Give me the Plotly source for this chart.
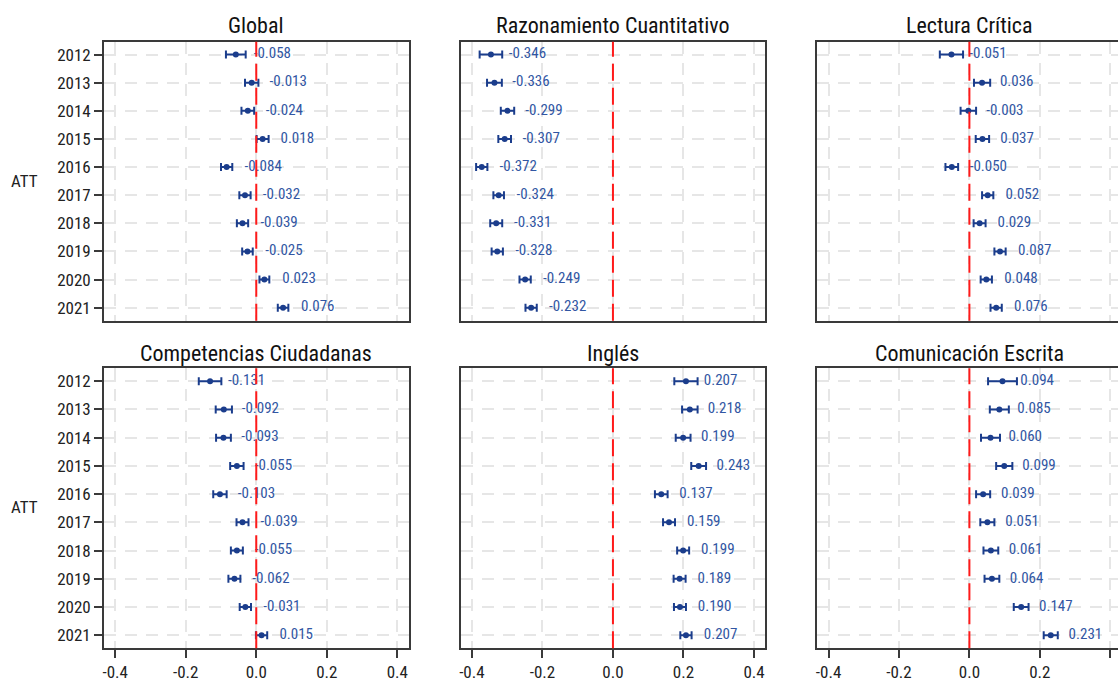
import plotly.graph_objects as go

years = ["2012", "2013", "2014", "2015", "2016", "2017", "2018", "2019", "2020", "2021"]

panel_titles = ["Global", "Razonamiento Cuantitativo", "Lectura Crítica",
                "Competencias Ciudadanas", "Inglés", "Comunicación Escrita"]

global_att = [-0.058, -0.013, -0.024, 0.018, -0.084, -0.032, -0.039, -0.025, 0.023, 0.076]
global_ci = [0.028, 0.019, 0.018, 0.017, 0.016, 0.016, 0.016, 0.015, 0.014, 0.015]

razon_att = [-0.346, -0.336, -0.299, -0.307, -0.372, -0.324, -0.331, -0.328, -0.249, -0.232]
razon_ci = [0.032, 0.021, 0.019, 0.018, 0.016, 0.015, 0.017, 0.016, 0.016, 0.016]

lectura_att = [-0.051, 0.036, -0.003, 0.037, -0.050, 0.052, 0.029, 0.087, 0.048, 0.076]
lectura_ci = [0.033, 0.023, 0.022, 0.019, 0.018, 0.016, 0.017, 0.016, 0.016, 0.016]

cc_att = [-0.131, -0.092, -0.093, -0.055, -0.103, -0.039, -0.055, -0.062, -0.031, 0.015]
cc_ci = [0.032, 0.023, 0.021, 0.019, 0.019, 0.017, 0.017, 0.017, 0.016, 0.016]

ingles_att = [0.207, 0.218, 0.199, 0.243, 0.137, 0.159, 0.199, 0.189, 0.190, 0.207]
ingles_ci = [0.033, 0.022, 0.021, 0.021, 0.018, 0.017, 0.017, 0.017, 0.017, 0.016]

ce_att = [0.094, 0.085, 0.060, 0.099, 0.039, 0.051, 0.061, 0.064, 0.147, 0.231]
ce_ci = [0.041, 0.027, 0.027, 0.023, 0.020, 0.020, 0.021, 0.021, 0.021, 0.020]

x_ticks = [-0.4, -0.2, 0.0, 0.2, 0.4]
x_ticktext = ["-0.4", "-0.2", "0.0", "0.2", "0.4"]

panels = [
    (global_att, global_ci),
    (razon_att, razon_ci),
    (lectura_att, lectura_ci),
    (cc_att, cc_ci),
    (ingles_att, ingles_ci),
    (ce_att, ce_ci),
]

FONT = "Liberation Sans Narrow, Arial Narrow, Roboto Condensed, Liberation Sans, sans-serif"
NAVY = "#1b3d8c"
TXT_BLUE = "#3156a3"
FRAME = "#3a3a3a"
GRID = "#e6e6e6"

W, H = 1118, 682
col_px = [(103, 408), (460, 765), (817, 1118)]
row_px = [(42, 323), (371, 653)]
col_dom = [[a / W, b / W] for a, b in col_px]
row_dom = [[1 - b / H, 1 - a / H] for a, b in row_px]

fig = go.Figure()
layout = dict(
    width=W, height=H,
    margin=dict(l=0, r=0, t=0, b=0),
    plot_bgcolor="white", paper_bgcolor="white",
    showlegend=False,
    font=dict(family=FONT, size=17, color="#222222"),
    annotations=[], shapes=[],
)

for i, (att, ci) in enumerate(panels):
    row, col = divmod(i, 3)
    sfx = "" if i == 0 else str(i + 1)
    xa, ya = "x" + sfx, "y" + sfx
    labels = [f"{v:.3f}" for v in att]

    fig.add_trace(go.Scatter(
        x=att, y=years, mode="markers",
        marker=dict(color=NAVY, size=6),
        error_x=dict(type="data", array=ci, symmetric=True,
                     color=NAVY, thickness=2, width=4),
        xaxis=xa, yaxis=ya, hoverinfo="skip",
    ))
    fig.add_trace(go.Scatter(
        x=att, y=years, mode="markers+text", text=labels,
        textposition="middle right",
        textfont=dict(family=FONT, size=15, color=TXT_BLUE),
        marker=dict(size=27, color="rgba(0,0,0,0)"),
        xaxis=xa, yaxis=ya, hoverinfo="skip",
    ))

    right_edge = 0.422 if col == 2 else 0.432
    layout["xaxis" + sfx] = dict(
        domain=col_dom[col], anchor=ya, range=[-0.432, right_edge],
        tickvals=x_ticks, ticktext=x_ticktext,
        showticklabels=(row == 1), ticks="outside" if row == 1 else "",
        ticklen=8, tickwidth=1.5, tickcolor=FRAME,
        tickfont=dict(size=17, color="#222222"),
        showgrid=True, gridcolor=GRID, gridwidth=1.5, griddash="12px,9px",
        zeroline=False, showline=True, linecolor=FRAME, linewidth=1.5,
        mirror=True, fixedrange=True,
    )
    layout["yaxis" + sfx] = dict(
        domain=row_dom[row], anchor=xa, type="category",
        categoryorder="array", categoryarray=years,
        range=[9.46, -0.46],
        showticklabels=(col == 0), ticks="outside" if col == 0 else "",
        ticklen=8, tickwidth=1.5, tickcolor=FRAME,
        tickfont=dict(size=17, color="#222222"),
        showgrid=True, gridcolor=GRID, gridwidth=1.5, griddash="12px,9px",
        zeroline=False, showline=True, linecolor=FRAME, linewidth=1.5,
        mirror=(col < 2), fixedrange=True,
    )
    layout["shapes"].append(dict(
        type="line", xref=xa, yref=ya + " domain", x0=0, x1=0, y0=0, y1=1,
        line=dict(color="#ff1a1a", width=2, dash="17px,7px"), layer="above",
    ))
    title_y = 1 - (26 if row == 0 else 356) / H
    layout["annotations"].append(dict(
        text=panel_titles[i], xref="paper", yref="paper",
        x=(col_px[col][0] + col_px[col][0] + 305) / 2 / W, y=title_y,
        xanchor="center", yanchor="middle", showarrow=False,
        font=dict(family=FONT, size=22, color="#111111"),
    ))

for yy in (182, 511):
    layout["annotations"].append(dict(
        text="ATT", xref="paper", yref="paper", x=24 / W, y=1 - yy / H,
        xanchor="center", yanchor="middle", showarrow=False,
        font=dict(family=FONT, size=17, color="#222222"),
    ))

fig.update_layout(**layout)
fig.write_html("out.html", config={"displayModeBar": False},
               post_script="document.body.style.margin='0';document.body.style.overflow='hidden';")
